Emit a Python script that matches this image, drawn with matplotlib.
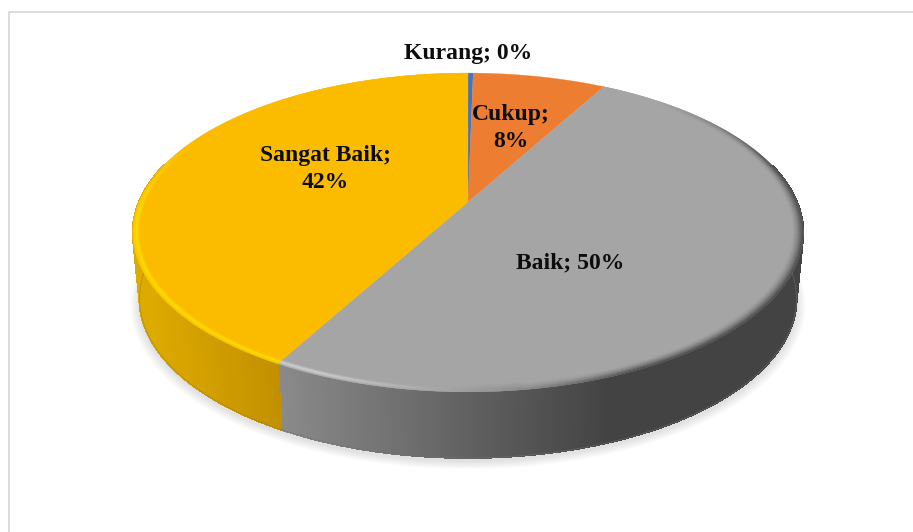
#diagram lingkaran 3D, digambar manual karena matplotlib tidak punya pie 3D
import numpy as np
import matplotlib
matplotlib.use('Agg')
import matplotlib.pyplot as plt
from matplotlib.collections import PolyCollection
from matplotlib.colors import to_rgb

categories = ['Kurang', 'Cukup', 'Baik', 'Sangat Baik']
values = [0.3, 7.7, 50, 42]
percent_labels = ['0%', '8%', '50%', '42%']
colors = ['#4472C4', '#ED7D31', '#A5A5A5', '#FBBC00']

# perspektif piringan (piksel)
CX, CY = 468, 202
R = 329
A, C = -115, 0.191
DEPTH = 66


def project(theta, r=1.0, h=0.0):
    # theta searah jarum jam dari atas
    u = r * np.sin(theta)
    v = r * np.cos(theta)
    d = 1 + C * v
    x = CX + R * u / d * (1 - 0.02 * h)
    y = (A * v + CY) / d + DEPTH * h
    return x, y


def mix(a, b, t):
    a = np.array(to_rgb(a))
    b = np.array(to_rgb(b))
    return tuple(a + (b - a) * t)


def side_color(i, x):
    if i == 3:
        return mix('#C29000', '#DDAA00', np.clip((278 - x) / 130, 0, 1))
    if i == 2:
        return mix('#8A8A8A', '#434343', np.clip((x - 278) / 330, 0, 1))
    return '#434343'


fig = plt.figure(figsize=(9.13, 5.32), dpi=100)
ax = fig.add_axes([0, 0, 1, 1])
ax.set_xlim(0, 913)
ax.set_ylim(532, 0)
ax.axis('off')

# bingkai
ax.plot([913, 8.5, 8.5], [11.5, 11.5, 532], color='#D9D9D9', lw=1.3)

fracs = np.array(values) / sum(values)
edges = np.concatenate([[0], np.cumsum(fracs)]) * 2 * np.pi

# bayangan
tt = np.linspace(0, 2 * np.pi, 240)
for k in range(10):
    sx, sy = project(tt, 1.0, 1.0)
    grow = 1 + (10 - k) * 0.0028
    ax.fill(CX + (sx - CX) * grow, 300 + (sy - 300) * grow + 7 - k * 0.4,
            color='#000000', alpha=0.012, lw=0)

# sisi samping
polys, cols = [], []
for i in range(len(values)):
    n = max(int((edges[i + 1] - edges[i]) * 100), 2)
    th = np.linspace(edges[i], edges[i + 1], n + 1)
    for a, b in zip(th[:-1], th[1:]):
        if np.cos((a + b) / 2) > 0.25:
            continue
        x0, y0 = project(a, 1, 0)
        x1, y1 = project(b, 1, 0)
        x2, y2 = project(b, 1, 1)
        x3, y3 = project(a, 1, 1)
        polys.append([(x0, y0), (x1, y1), (x2, y2), (x3, y3)])
        cols.append(side_color(i, (x0 + x1) / 2))
ax.add_collection(PolyCollection(polys, facecolors=cols, edgecolors=cols, linewidths=0.8,
                                 antialiaseds=False))
# tepi bawah yang halus
for i in [2, 3]:
    th = np.linspace(edges[i], edges[i + 1], 200)
    x, y = project(th, 1, 1)
    keep = np.cos(th) < -0.02
    ax.plot(x[keep], y[keep], color=mix(colors[i], '#333333', 0.45), lw=0.6, alpha=0.6, zorder=1)

# permukaan atas
for i in range(len(values)):
    th = np.linspace(edges[i], edges[i + 1], 200)
    x, y = project(th)
    ax.fill(np.r_[CX, x], np.r_[CY, y], color=colors[i], lw=0.2)

# bevel di tepi
polys, cols = [], []
rings = np.linspace(0.968, 1.0, 9)
for i in [2, 3]:
    n = int((edges[i + 1] - edges[i]) * 120)
    th = np.linspace(edges[i], edges[i + 1], n + 1)
    for a, b in zip(th[:-1], th[1:]):
        m = (a + b) / 2
        mx, _ = project(m)
        front = np.clip((0.45 - np.cos(m)) / 0.5, 0, 1)
        back = np.clip((0.75 - np.cos(m)) / 0.5, 0, 1)
        for r0, r1 in zip(rings[:-1], rings[1:]):
            t = (r0 + r1 - 2 * rings[0]) / 2 / (rings[-1] - rings[0])
            peak = np.exp(-((t - 0.7) / 0.22) ** 2) * front
            if i == 3:
                c = mix(colors[3], '#FFDC00', peak)
            elif mx < 520:
                lit = np.clip((520 - mx) / 200, 0, 1)
                c = mix(colors[2], mix('#8A8A8A', '#D2D2D2', lit), peak if lit > 0.3 else t * front)
            else:
                dark = np.clip((mx - 520) / 120, 0, 1)
                c = mix(colors[2], mix('#8A8A8A', '#434343', dark), t ** 1.6 * back)
            x0, y0 = project(a, r0)
            x1, y1 = project(b, r0)
            x2, y2 = project(b, r1)
            x3, y3 = project(a, r1)
            polys.append([(x0, y0), (x1, y1), (x2, y2), (x3, y3)])
            cols.append(c)
ax.add_collection(PolyCollection(polys, facecolors=cols, edgecolors=cols, linewidths=0.2))

# label data
style = dict(family='Liberation Serif', weight='bold', fontsize=17, color='#0D0D0D',
             ha='center', va='center', linespacing=1.38)
ax.text(468, 54, f'{categories[0]}; {percent_labels[0]}', **style)
ax.text(511, 128, f'{categories[1]};\n{percent_labels[1]}', **style)
ax.text(570, 263, f'{categories[2]}; {percent_labels[2]}', **style)
ax.text(325, 169, f'{categories[3]};\n{percent_labels[3]}', **style)

fig.savefig('out.png', dpi=100)
